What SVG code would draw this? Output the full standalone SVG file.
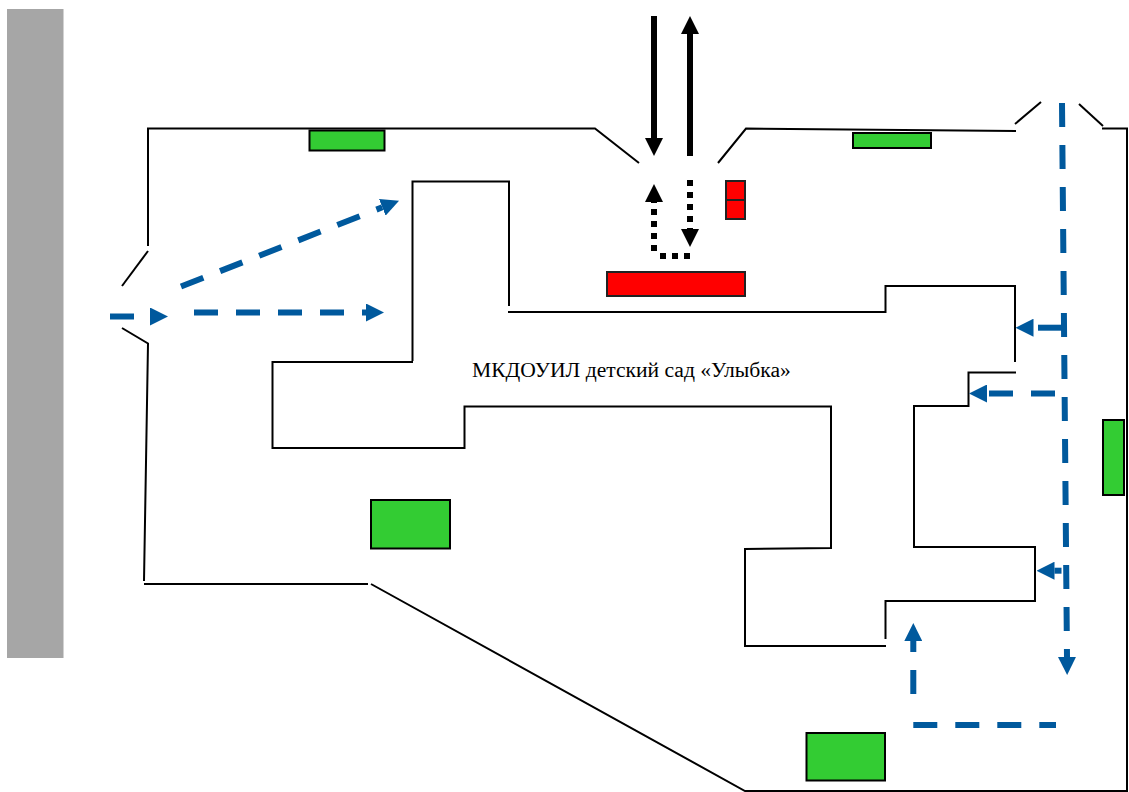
<svg xmlns="http://www.w3.org/2000/svg" width="1129" height="792" viewBox="0 0 1129 792">
<style>
.wall{fill:none;stroke:#000;stroke-width:2}
.green{fill:#33cc33;stroke:#000;stroke-width:2}
.red{fill:#ff0000;stroke:#222;stroke-width:2}
.blue{fill:none;stroke:#00599d;stroke-width:6;stroke-dasharray:24 18}
.solid{fill:none;stroke:#000;stroke-width:6}
.dot{fill:none;stroke:#000;stroke-width:6;stroke-dasharray:6 6}
text{font-family:"Liberation Serif","Times New Roman",serif;font-size:21.6px;fill:#000}
</style>
<defs>
<marker id="hb" markerUnits="userSpaceOnUse" markerWidth="18" markerHeight="18" refX="0" refY="9" orient="auto"><path d="M0 0L18 9L0 18Z" fill="#00599d"/></marker>
<marker id="hk" markerUnits="userSpaceOnUse" markerWidth="18" markerHeight="18" refX="0" refY="9" orient="auto"><path d="M0 0L18 9L0 18Z" fill="#000"/></marker>
</defs>
<rect id="road" x="7" y="9" width="56.500" height="649" fill="#a6a6a6"/>
<g id="outer-walls">
<path class="wall" d="M148 246V128.500H595L639 163"/>
<path class="wall" d="M718 163L746 128.500L1016 131"/>
<path class="wall" d="M1015 124L1041 102"/>
<path class="wall" d="M1079 104L1103 126"/>
<path class="wall" d="M1102 128.500H1127V791H745L371 584"/>
<path class="wall" d="M148 251L122 286"/>
<path class="wall" d="M122 328L148 343.500L144 581"/>
<path class="wall" d="M144 584H368"/>
</g>
<g id="building">
<path class="wall" d="M412.500 361V181.500H509V306"/>
<path class="wall" d="M508 312H885.500V286H1015V362"/>
<path class="wall" d="M1016 372.500H968.500V406H914V547H1035V601H885.500V639"/>
<path class="wall" d="M886 646H745V549L831 548V406.500H464.500V448H272.500V362H413"/>
</g>
<g id="green-1"><rect class="green" x="309.500" y="130.500" width="75" height="20"/></g>
<g id="green-2"><rect class="green" x="853" y="133" width="78" height="15"/></g>
<g id="green-3"><rect class="green" x="371" y="500" width="79" height="48.500"/></g>
<g id="green-4"><rect class="green" x="1103" y="420" width="21" height="75"/></g>
<g id="green-5"><rect class="green" x="806.500" y="733" width="78.500" height="47.500"/></g>
<g id="red-1"><rect class="red" x="607" y="272" width="138" height="24"/></g>
<g id="red-2"><rect class="red" x="726" y="181" width="19" height="38"/><path class="red" d="M725 200H746"/></g>
<g id="label"><text x="472" y="377">МКДОУИЛ детский сад «Улыбка»</text></g>
<g id="connectors">
<path class="solid" d="M654 16V138" marker-end="url(#hk)"/>
<path class="solid" d="M690 156V34" marker-end="url(#hk)"/>
<path class="dot" d="M690 180V229" marker-end="url(#hk)"/>
<path class="dot" d="M690 256H660"/>
<path class="dot" d="M654 251V202" marker-end="url(#hk)"/>
<path class="blue" d="M110 316.500H150" marker-end="url(#hb)"/>
<path class="blue" d="M194 312.500H366" marker-end="url(#hb)"/>
<path class="blue" d="M181 286.500L382.300 207.300" marker-end="url(#hb)"/>
<path class="blue" d="M1062 103L1067 657" marker-end="url(#hb)"/>
<path class="blue" d="M1062 327.700H1033.500" marker-end="url(#hb)"/>
<path class="blue" d="M1055 393.500H987" marker-end="url(#hb)"/>
<path class="blue" d="M1061.500 570.700H1054.500" marker-end="url(#hb)"/>
<path class="blue" d="M913.300 694V641" marker-end="url(#hb)"/>
<path class="blue" d="M913.300 725H1056"/>
</g>
</svg>
